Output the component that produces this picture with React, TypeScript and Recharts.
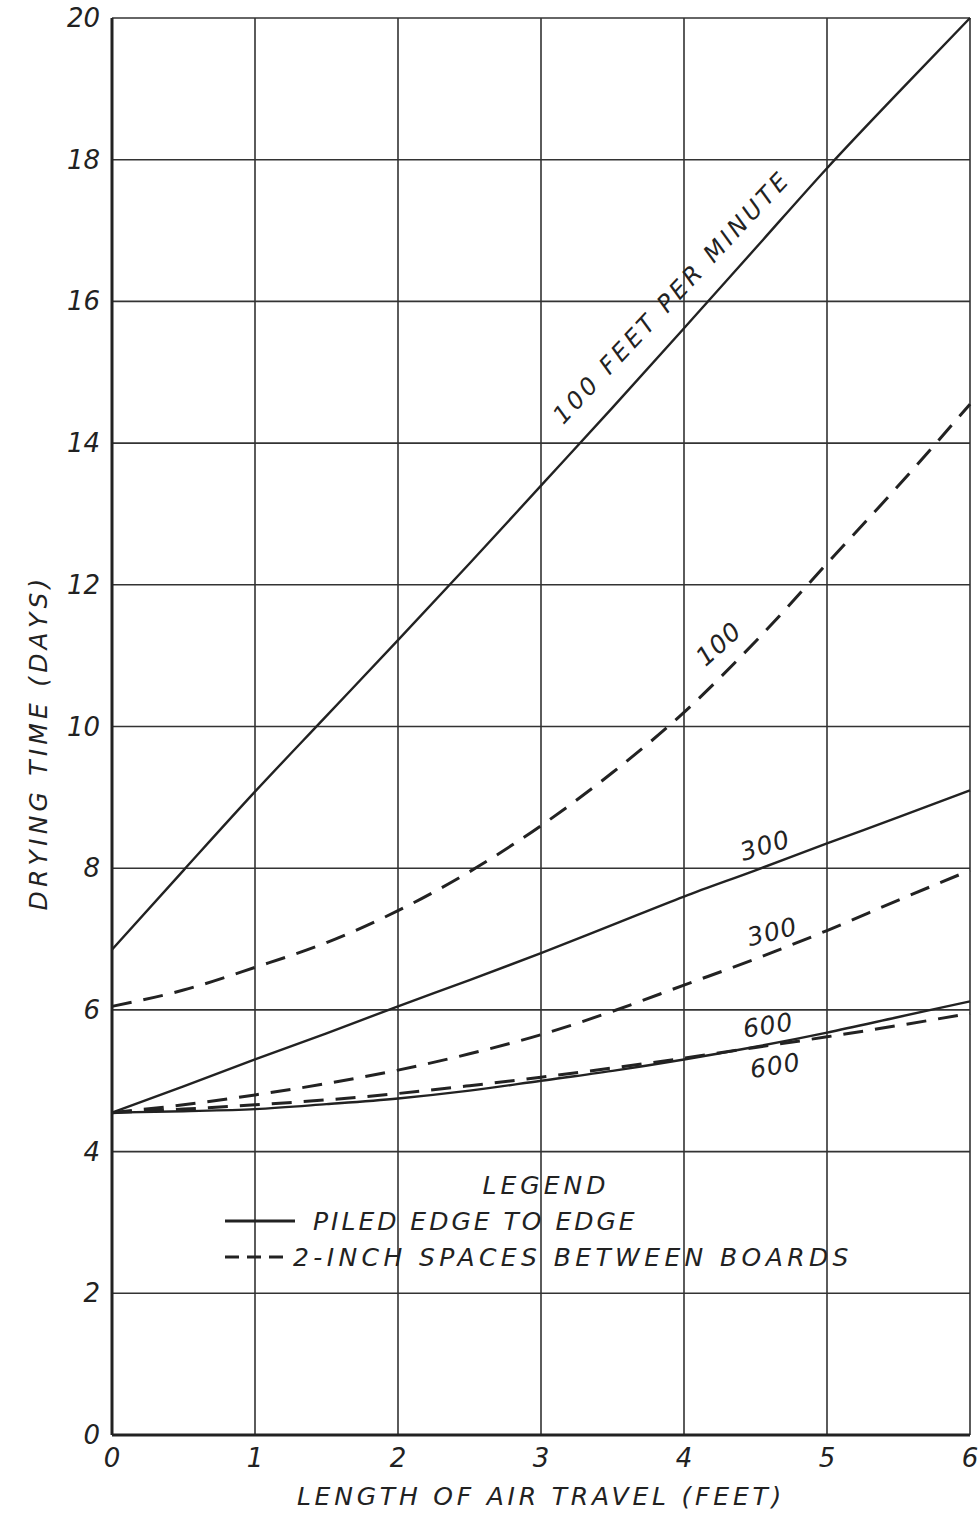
import { LineChart, Line, XAxis, YAxis, CartesianGrid, ReferenceDot } from 'recharts'

// length of air travel (feet)
const travel = [0, 0.5, 1, 1.5, 2, 2.5, 3, 3.5, 4, 4.5, 5, 5.5, 6]

// drying time (days)
const piled100 = [6.85, 7.97, 9.08, 10.15, 11.22, 12.3, 13.4, 14.5, 15.62, 16.75, 17.88, 18.95, 20.0]
const spaced100 = [6.05, 6.28, 6.6, 6.95, 7.4, 7.95, 8.6, 9.35, 10.2, 11.2, 12.3, 13.4, 14.55]
const piled300 = [4.55, 4.92, 5.3, 5.67, 6.05, 6.42, 6.8, 7.2, 7.6, 7.97, 8.35, 8.72, 9.1]
const spaced300 = [4.55, 4.66, 4.8, 4.96, 5.15, 5.38, 5.65, 5.98, 6.35, 6.72, 7.12, 7.55, 7.97]
const piled600 = [4.55, 4.57, 4.6, 4.67, 4.75, 4.86, 5.0, 5.14, 5.3, 5.48, 5.68, 5.9, 6.12]
const spaced600 = [4.55, 4.6, 4.66, 4.73, 4.82, 4.93, 5.05, 5.18, 5.32, 5.47, 5.62, 5.78, 5.95]

const xTicks = [0, 1, 2, 3, 4, 5, 6]
const yTicks = [0, 2, 4, 6, 8, 10, 12, 14, 16, 18, 20]

const annotations = [
  { x: 3.92, y: 16.05, text: '100 FEET PER MINUTE', angle: -47 },
  { x: 4.25, y: 11.15, text: '100', angle: -42 },
  { x: 4.57, y: 8.3, text: '300', angle: -17 },
  { x: 4.62, y: 7.08, text: '300', angle: -14 },
  { x: 4.59, y: 5.76, text: '600', angle: -9 },
  { x: 4.64, y: 5.19, text: '600', angle: -9 },
]

const legendTitle = 'LEGEND'
const legendItems = [
  { label: 'PILED EDGE TO EDGE', dash: undefined as string | undefined },
  { label: '2-INCH SPACES BETWEEN BOARDS', dash: '14 8' },
]

const rows = travel.map((t, i) => ({
  t,
  piled100: piled100[i],
  spaced100: spaced100[i],
  piled300: piled300[i],
  spaced300: spaced300[i],
  piled600: piled600[i],
  spaced600: spaced600[i],
}))

const ink = '#222'
const font = '"DejaVu Sans", sans-serif'
const txt = { fontFamily: font, fontStyle: 'italic' as const, fill: ink }

function YTick(props: any) {
  const { x, y, payload } = props
  return (
    <text x={x} y={y} dy={9} textAnchor="end" fontSize={26} {...txt}>
      {payload.value}
    </text>
  )
}

function XTick(props: any) {
  const { x, y, payload } = props
  return (
    <text x={x} y={y} dy={22} textAnchor="middle" fontSize={26} {...txt}>
      {payload.value}
    </text>
  )
}

function YTitle(props: any) {
  const vb = props.viewBox || { x: 0, y: 0, width: 0, height: 0 }
  const cx = vb.x + 40
  const cy = vb.y + vb.height / 2 + 16
  return (
    <text
      x={cx}
      y={cy}
      textAnchor="middle"
      dominantBaseline="middle"
      fontSize={25}
      letterSpacing={4.2}
      transform={`rotate(-90, ${cx}, ${cy})`}
      {...txt}
    >
      DRYING TIME (DAYS)
    </text>
  )
}

function annoLabel(text: string, angle: number) {
  return (props: any) => {
    const vb = props.viewBox || {}
    const cx = vb.x + (vb.width || 0) / 2
    const cy = vb.y + (vb.height || 0) / 2
    const long = text.length > 3
    return (
      <text
        x={cx}
        y={cy}
        textAnchor="middle"
        dominantBaseline="middle"
        fontSize={long ? 24 : 25}
        letterSpacing={long ? 3.6 : 1}
        transform={`rotate(${angle}, ${cx}, ${cy})`}
        {...txt}
      >
        {text}
      </text>
    )
  }
}

function LegendBox() {
  return (
    <svg
      width={700}
      height={120}
      style={{ position: 'absolute', left: 220, top: 1160, overflow: 'visible' }}
    >
      <text x={326} y={34} textAnchor="middle" fontSize={25} letterSpacing={4} {...txt}>
        {legendTitle}
      </text>
      {legendItems.map((it, i) => (
        <g key={it.label}>
          <line
            x1={5}
            x2={it.dash ? 70 : 75}
            y1={61 + i * 36}
            y2={61 + i * 36}
            stroke={ink}
            strokeWidth={3}
            strokeDasharray={it.dash}
          />
          <text x={it.dash ? 73 : 93} y={70 + i * 36} fontSize={25} letterSpacing={it.dash ? 4.4 : 3} {...txt}>
            {it.label}
          </text>
        </g>
      ))}
    </svg>
  )
}

export default function App() {
  return (
    <div style={{ position: 'absolute', left: 0, top: 0, width: 978, height: 1523, background: '#fff' }}>
      <LineChart width={978} height={1523} data={rows} margin={{ top: 18, right: 8, left: 0, bottom: 0 }}>
        <CartesianGrid stroke="#333" strokeWidth={1.6} horizontalValues={yTicks} verticalValues={xTicks} />
        <XAxis
          dataKey="t"
          type="number"
          domain={[0, 6]}
          ticks={xTicks}
          height={88}
          tick={<XTick />}
          tickLine={false}
          tickSize={0}
          tickMargin={10}
          axisLine={{ stroke: ink, strokeWidth: 3 }}
          label={{
            value: 'LENGTH OF AIR TRAVEL (FEET)',
            position: 'insideBottom',
            offset: 18,
            style: { fontFamily: font, fontStyle: 'italic', fontSize: 25, letterSpacing: 3.8, fill: ink },
          }}
        />
        <YAxis
          type="number"
          domain={[0, 20]}
          ticks={yTicks}
          width={112}
          tick={<YTick />}
          tickLine={false}
          tickSize={0}
          tickMargin={12}
          axisLine={{ stroke: ink, strokeWidth: 3 }}
          label={YTitle}
        />
        <Line dataKey="piled100" type="monotone" stroke={ink} strokeWidth={2.4} dot={false} isAnimationActive={false} />
        <Line dataKey="spaced100" type="monotone" stroke={ink} strokeWidth={3} strokeDasharray="20 12" dot={false} isAnimationActive={false} />
        <Line dataKey="piled300" type="monotone" stroke={ink} strokeWidth={2.4} dot={false} isAnimationActive={false} />
        <Line dataKey="spaced300" type="monotone" stroke={ink} strokeWidth={3} strokeDasharray="20 12" dot={false} isAnimationActive={false} />
        <Line dataKey="piled600" type="monotone" stroke={ink} strokeWidth={2.4} dot={false} isAnimationActive={false} />
        <Line dataKey="spaced600" type="monotone" stroke={ink} strokeWidth={3} strokeDasharray="20 12" dot={false} isAnimationActive={false} />
        {annotations.map((a, i) => (
          <ReferenceDot
            key={i}
            x={a.x}
            y={a.y}
            r={0}
            fill="none"
            stroke="none"
            label={annoLabel(a.text, a.angle)}
          />
        ))}
      </LineChart>
      <LegendBox />
    </div>
  )
}
